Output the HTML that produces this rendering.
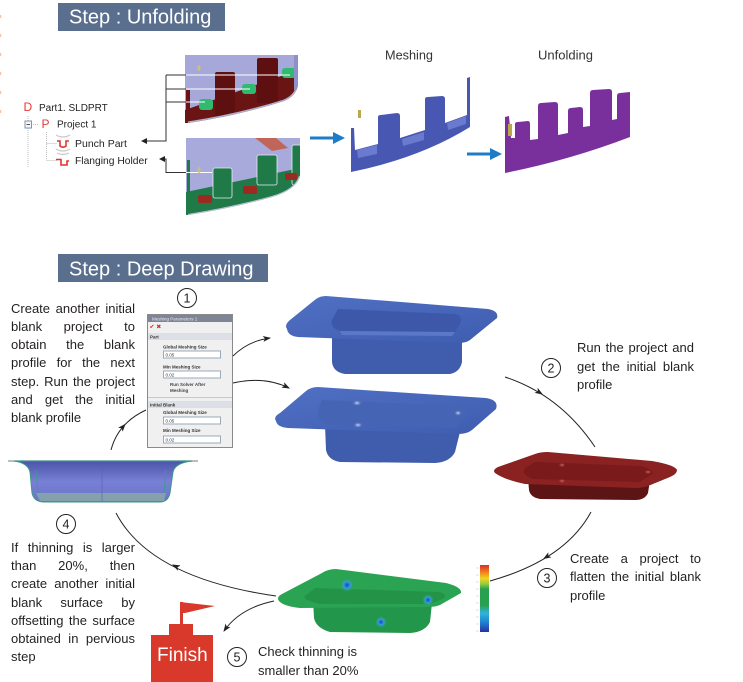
<!DOCTYPE html>
<html><head><meta charset="utf-8">
<style>
html,body{margin:0;padding:0;background:#fff;}
#c{position:relative;width:743px;height:682px;overflow:hidden;background:#fff;font-family:"Liberation Sans",Arial,sans-serif;color:#231f20;}
.p{position:absolute;font-size:13px;line-height:18.3px;}
.p div{white-space:nowrap;}
.j{text-align:justify;text-align-last:justify;white-space:normal!important;}
svg{position:absolute;left:0;top:0;}
</style></head><body><div id="c">
<svg width="743" height="682" viewBox="0 0 743 682" font-family="Liberation Sans, Arial, sans-serif">
<defs>
<marker id="ah" markerWidth="8" markerHeight="6" refX="7" refY="3" orient="auto" markerUnits="userSpaceOnUse">
<path d="M0,0 L8,3 L0,6 L2,3 z" fill="#222"/></marker>
<marker id="ah2" markerWidth="6" markerHeight="6" refX="5" refY="3" orient="auto" markerUnits="userSpaceOnUse">
<path d="M0,0 L6,3 L0,6 z" fill="#222"/></marker>
<linearGradient id="bar" x1="0" y1="0" x2="0" y2="1">
<stop offset="0" stop-color="#d8302a"/><stop offset="0.1" stop-color="#f07a20"/><stop offset="0.2" stop-color="#f0d420"/><stop offset="0.28" stop-color="#98cc40"/><stop offset="0.36" stop-color="#28a050"/><stop offset="0.6" stop-color="#28a050"/><stop offset="0.72" stop-color="#30b4dc"/><stop offset="0.86" stop-color="#2080d0"/><stop offset="1" stop-color="#2830a0"/></linearGradient>
<linearGradient id="sec" x1="0" y1="0" x2="0" y2="1">
<stop offset="0" stop-color="#4a54a8"/><stop offset="0.5" stop-color="#7880d6"/><stop offset="1" stop-color="#6a74c4"/></linearGradient>
<linearGradient id="blu" x1="0" y1="0" x2="1" y2="1">
<stop offset="0" stop-color="#5070c4"/><stop offset="1" stop-color="#3f5db0"/></linearGradient>
<radialGradient id="spot"><stop offset="0" stop-color="#2040c0"/><stop offset="0.5" stop-color="#30a0d8"/><stop offset="1" stop-color="#2aa352" stop-opacity="0"/></radialGradient>
<radialGradient id="wsp"><stop offset="0" stop-color="#d8dcf4"/><stop offset="1" stop-color="#5070c4" stop-opacity="0"/></radialGradient>
<radialGradient id="rsp"><stop offset="0" stop-color="#d07070"/><stop offset="1" stop-color="#8a2222" stop-opacity="0"/></radialGradient>
<clipPath id="c1"><path d="M185,55 H298 V85 Q296,96 284,101 Q240,115 188,123 H185 Z"/></clipPath>
<clipPath id="c2"><path d="M186,138 H300 V176 Q296,190 272,197 Q232,208 188,215 H186 Z"/></clipPath>
</defs>

<!-- faint left dashes -->
<g stroke="#f6c4a4" stroke-width="1.5">
<line x1="0.5" y1="15" x2="0.5" y2="18"/><line x1="0.5" y1="34" x2="0.5" y2="37"/><line x1="0.5" y1="53" x2="0.5" y2="56"/><line x1="0.5" y1="72" x2="0.5" y2="75"/><line x1="0.5" y1="91" x2="0.5" y2="94"/><line x1="0.5" y1="110" x2="0.5" y2="113"/></g>

<!-- titles -->
<rect x="58" y="3" width="167" height="28" fill="#5a6e8e"/>
<text x="69" y="23.5" font-size="20" fill="#fff">Step : Unfolding</text>
<rect x="58" y="254" width="210" height="28" fill="#5a6e8e"/>
<text x="69" y="275.5" font-size="20" fill="#fff">Step : Deep Drawing</text>

<!-- tree -->
<g stroke="#bbb" stroke-dasharray="1,1" stroke-width="1">
<line x1="28" y1="116" x2="28" y2="168"/><line x1="31" y1="124.5" x2="38" y2="124.5"/>
<line x1="46.5" y1="132" x2="46.5" y2="160"/><line x1="46.5" y1="143.5" x2="57" y2="143.5"/><line x1="46.5" y1="160.5" x2="57" y2="160.5"/></g>
<rect x="25" y="121" width="6.5" height="7" fill="#f4f6fa" stroke="#7d95b5" stroke-width="1"/>
<line x1="26.5" y1="124.5" x2="30" y2="124.5" stroke="#555" stroke-width="1"/>
<text x="23.5" y="111" font-size="12" fill="#e33a35">D</text>
<text x="39" y="111" font-size="10" fill="#222">Part1. SLDPRT</text>
<text x="41.5" y="128" font-size="12" fill="#e33a35">P</text>
<text x="57" y="127.5" font-size="10" fill="#222">Project 1</text>
<path d="M56,135 Q63,139 70,135" stroke="#c8c8c8" fill="none" stroke-width="1.2"/>
<path d="M57,141 H60 V146 Q63,148.5 66,146 V141 H69" stroke="#e03530" fill="none" stroke-width="1.6"/>
<path d="M56,149 Q63,153 70,149 M57,153 Q63,156 69,153" stroke="#c8c8c8" fill="none" stroke-width="1.2"/>
<path d="M56,159.5 H61 V165 H67 V161 H69" stroke="#e03530" fill="none" stroke-width="1.6"/>
<text x="75" y="147" font-size="10.5" fill="#222">Punch Part</text>
<text x="75" y="164" font-size="10.3" fill="#222">Flanging Holder</text>

<!-- image 1 -->
<g clip-path="url(#c1)">
<rect x="185" y="55" width="115" height="70" fill="#a6a8da"/>
<polygon points="185,110 298,70 298,125 185,125" fill="#6a1414"/>
<rect x="215" y="72" width="20" height="45" rx="2" fill="#5e1010"/>
<rect x="257" y="58" width="21" height="45" rx="2" fill="#5e1010"/>
<rect x="186" y="90" width="4" height="35" fill="#6a1414"/>
<rect x="199" y="99" width="14" height="11" rx="3" fill="#2fba70"/>
<rect x="242" y="84" width="14" height="10" rx="3" fill="#2fba70"/>
<rect x="282" y="68" width="14" height="10" rx="3" fill="#2fba70"/>
<path d="M298,85 Q296,96 284,101 Q240,115 188,123" stroke="#b0b0d0" stroke-width="3" fill="none"/>
<rect x="294" y="55" width="4" height="35" fill="#8f90c8"/>
</g>
<!-- image 2 -->
<g clip-path="url(#c2)">
<rect x="186" y="138" width="115" height="80" fill="#a8aadc"/>
<polygon points="255,138 276,138 288,148 272,151" fill="#c45a42" opacity="0.85"/>
<polygon points="186,192 300,168 300,218 186,218" fill="#1f7a48"/>
<rect x="213" y="168" width="19" height="30" rx="2" fill="#1f7a48" stroke="#e8eaf8" stroke-width="0.8"/>
<rect x="257" y="155" width="20" height="30" rx="2" fill="#1f7a48" stroke="#e8eaf8" stroke-width="0.8"/>
<rect x="292" y="145" width="9" height="40" rx="2" fill="#1f7a48" stroke="#e8eaf8" stroke-width="0.8"/>
<rect x="187" y="160" width="3" height="50" fill="#1f7a48"/>
<rect x="198" y="195" width="14" height="8" rx="2" fill="#9c2a20"/>
<rect x="243" y="186" width="14" height="8" rx="2" fill="#9c2a20"/>
<rect x="285" y="173" width="12" height="7" rx="2" fill="#9c2a20"/>
<path d="M300,176 Q296,190 272,197 Q232,208 188,215" stroke="#c0c4d8" stroke-width="2" fill="none"/>
</g>
<!-- connectors top -->
<g stroke="#333" stroke-width="1" fill="none">
<path d="M166,75 V141 H142" marker-end="url(#ah2)"/>
<line x1="166" y1="75" x2="186" y2="75"/><line x1="166" y1="89" x2="186" y2="89"/><line x1="166" y1="102" x2="186" y2="102"/>
<path d="M186,172.5 H166 V159 H160" marker-end="url(#ah2)"/>
</g>
<g stroke="#fff" stroke-width="1">
<line x1="186" y1="75" x2="290" y2="75"/><line x1="186" y1="89" x2="250" y2="89"/><line x1="186" y1="102" x2="205" y2="102"/><line x1="186" y1="172.5" x2="212" y2="172.5"/></g>
<ellipse cx="199" cy="68" rx="1.5" ry="3" fill="#c8c080"/>
<ellipse cx="199" cy="170" rx="1.5" ry="3" fill="#c8c080"/>

<!-- blue arrows -->
<g fill="#1e7cc6">
<rect x="310" y="136.5" width="24" height="3"/><polygon points="333,132 345,138 333,144"/>
<rect x="467" y="152.5" width="24" height="3"/><polygon points="490,148 502,154 490,160"/></g>
<text x="385" y="59.5" font-size="12.7" fill="#333">Meshing</text>
<text x="538" y="59.5" font-size="13" fill="#333">Unfolding</text>

<!-- meshing shape -->
<path d="M351,172 L351,128 L354,128 L355,150 L378,144 L378,117 Q378,115 381,115 L397,113 Q400,113 400,116 L400,138 L425,130 L425,99 Q425,97 428,97 L442,96 Q445,96 445,99 L445,123 L467,115 L467,78 L470,77 L470,127 Q420,158 351,172 Z" fill="#4858b2"/>
<polygon points="357,150 377,145 377,154 358,158" fill="#6a7ace"/>
<polygon points="402,139 424,132 424,140 403,146" fill="#6a7ace"/>
<polygon points="447,123 466,116 466,124 448,130" fill="#6a7ace"/>
<rect x="358" y="110" width="3" height="8" fill="#b8a850"/>
<!-- unfolding shape -->
<path d="M505,173 L505,117 L509,116 L511,138 L515,138 L515,124 Q515,122 518,122 L528,121 Q530,121 530,124 L530,140 L538,139 L538,106 Q538,103 541,103 L555,102 Q558,102 558,105 L558,135 L568,133 L568,111 Q568,108 571,108 L580,107 Q583,107 583,110 L583,127 L590,126 L590,93 Q590,90 593,90 L609,89 Q612,89 612,92 L612,120 L617,119 L617,96 Q617,93 620,93 L630,92 L630,137 Q570,160 505,173 Z" fill="#7a309c"/>
<rect x="508" y="124" width="4" height="12" fill="#b8a850"/>

<!-- dialog -->
<rect x="147.5" y="314.5" width="85" height="133" fill="#f0f0f0" stroke="#8a8a8a"/>
<rect x="148" y="315" width="84" height="7" fill="#7d8597"/>
<text x="152" y="320.5" font-size="4.5" fill="#e8e8f0">Meshing Parameters 1</text>
<text x="149.5" y="328.5" font-size="6" fill="#d03030">✔ ✖</text>
<rect x="148" y="333" width="84" height="7" fill="#dce0e6"/>
<text x="150" y="338.5" font-size="4.5" font-weight="bold" fill="#333">Part</text>
<text x="163" y="348.5" font-size="4.5" font-weight="bold" fill="#333">Global Meshing Size</text>
<rect x="163.5" y="351" width="57" height="7" fill="#fff" stroke="#9ab"/>
<text x="165.5" y="356.5" font-size="4.5" fill="#333">0.05</text>
<text x="163" y="368.5" font-size="4.5" font-weight="bold" fill="#333">Min Meshing Size</text>
<rect x="163.5" y="371" width="57" height="7" fill="#fff" stroke="#9ab"/>
<text x="165.5" y="376.5" font-size="4.5" fill="#333">0.02</text>
<text x="170" y="386" font-size="4.5" font-weight="bold" fill="#444">Run Solver After</text>
<text x="170" y="392" font-size="4.5" font-weight="bold" fill="#444">Meshing</text>
<line x1="148" y1="397.5" x2="232" y2="397.5" stroke="#c8c8c8"/>
<rect x="148" y="401" width="84" height="7" fill="#dce0e6"/>
<text x="150" y="406.5" font-size="4.5" font-weight="bold" fill="#333">Initial Blank</text>
<text x="163" y="414" font-size="4.5" font-weight="bold" fill="#333">Global Meshing Size</text>
<rect x="163.5" y="417" width="57" height="7" fill="#fff" stroke="#9ab"/>
<text x="165.5" y="422.5" font-size="4.5" fill="#333">0.05</text>
<text x="163" y="432" font-size="4.5" font-weight="bold" fill="#333">Min Meshing Size</text>
<rect x="163.5" y="436" width="57" height="7" fill="#fff" stroke="#9ab"/>
<text x="165.5" y="441.5" font-size="4.5" fill="#333">0.02</text>

<!-- top blue tray -->
<path d="M332,335 L462,335 L462,362 Q460,372 450,374 L345,374 Q333,372 332,362 Z" fill="#3f5cad"/>
<path d="M287,329 Q284,325 290,320 L316,299 Q320,296 326,296 L488,309 Q499,311 497,318 L470,340 Q466,343 458,343 L298,337 Q288,336 287,329 Z" fill="url(#blu)"/>
<path d="M338,309 L455,314 Q464,316 460,324 L455,332 L340,331 Q330,328 332,320 Z" fill="#3d58a8"/>
<path d="M340,331 L455,332 L452,336 L342,335 Z" fill="#5a78c8"/>
<!-- second blue tray -->
<path d="M325,425 L460,432 L455,452 Q450,462 435,463 L340,462 Q328,460 326,450 Z" fill="#3f5cad"/>
<path d="M276,421 Q273,417 280,413 L306,391 Q311,387 318,387 L486,398 Q499,400 496,409 L472,430 Q467,434 458,434 L288,428 Q277,427 276,421 Z" fill="url(#blu)"/>
<path d="M322,400 L458,406 Q470,410 466,417 L455,428 L330,425 Q316,420 318,410 Z" fill="#4564b4"/>
<ellipse cx="357" cy="403" rx="5" ry="3" fill="url(#wsp)"/>
<ellipse cx="458" cy="413" rx="4" ry="3" fill="url(#wsp)"/>
<ellipse cx="358" cy="425" rx="5" ry="3" fill="url(#wsp)"/>
<!-- red tray -->
<path d="M528,478 L650,480 L648,493 Q645,500 635,500 L540,499 Q530,497 529,490 Z" fill="#5c1414"/>
<path d="M495,473 Q492,470 498,467 L535,454 Q540,452 548,452 L652,461 Q675,465 677,470 Q677,474 670,477 L648,486 Q642,488 635,488 L525,484 Q505,480 495,473 Z" fill="#8a2222"/>
<path d="M535,462 L640,466 Q656,470 652,474 L640,482 L533,479 Q520,474 525,468 Z" fill="#7a1a1a"/>
<ellipse cx="562" cy="465" rx="4" ry="2.5" fill="url(#rsp)"/>
<ellipse cx="648" cy="472" rx="4" ry="2.5" fill="url(#rsp)"/>
<ellipse cx="562" cy="481" rx="4" ry="2.5" fill="url(#rsp)"/>
<!-- green tray -->
<path d="M313,600 L432,603 L430,622 Q425,632 410,633 L330,632 Q316,628 314,618 Z" fill="#22964a"/>
<path d="M279,601 Q276,597 282,594 L322,573 Q328,569 336,569 L446,583 Q462,587 461,593 L440,605 Q435,607 428,607 L300,608 Q283,606 279,601 Z" fill="#2aa352"/>
<path d="M315,588 L440,592 Q448,595 444,598 L430,604 L320,604 Q302,600 305,596 Z" fill="#239447"/>
<circle cx="347" cy="585" r="7" fill="url(#spot)"/>
<circle cx="428" cy="600" r="6" fill="url(#spot)"/>
<circle cx="381" cy="622" r="6" fill="url(#spot)"/>
<!-- color bar -->
<rect x="480" y="565" width="9" height="67" fill="url(#bar)"/>
<g stroke="#ccc" stroke-width="0.6"><line x1="476" y1="568" x2="479" y2="568"/><line x1="476" y1="575" x2="479" y2="575"/><line x1="476" y1="582" x2="479" y2="582"/><line x1="476" y1="589" x2="479" y2="589"/><line x1="476" y1="596" x2="479" y2="596"/><line x1="476" y1="603" x2="479" y2="603"/><line x1="476" y1="610" x2="479" y2="610"/><line x1="476" y1="617" x2="479" y2="617"/><line x1="476" y1="624" x2="479" y2="624"/><line x1="476" y1="631" x2="479" y2="631"/></g>

<!-- left section image -->
<line x1="8" y1="461" x2="198" y2="461" stroke="#a0aab0" stroke-width="1.5"/>
<path d="M14,461 Q28,463 30,472 L32,493 Q34,502 44,502 L160,502 Q168,502 170,493 L173,472 Q175,463 192,461 Z" fill="url(#sec)" stroke="#3a9a8a" stroke-width="1"/>
<path d="M36,493 L166,493 L164,501 L40,501 Z" fill="#8aa8a8" opacity="0.85"/>
<g stroke="#3f9a8c" stroke-width="1" fill="none"><path d="M36,470 L38,493"/><path d="M166,470 L164,493"/></g>
<line x1="102" y1="462" x2="102" y2="501" stroke="#5860b0" stroke-width="0.6"/>

<!-- arcs -->
<g stroke="#222" stroke-width="1" fill="none">
<path d="M111,450 Q118,423 146,410"/>
<path d="M121.5,428.5 L125,424.5" marker-end="url(#ah)"/>
<path d="M233,356 Q248,341 270,338" marker-end="url(#ah)"/>
<path d="M233,383 Q265,376 289,388" marker-end="url(#ah)"/>
<path d="M505,377 Q560,395 595,447"/>
<path d="M538,391.5 L542,394" marker-end="url(#ah)"/>
<path d="M591,512 Q565,560 490,581"/>
<path d="M548,556 L544,558.5" marker-end="url(#ah)"/>
<path d="M116,513 Q150,578 276,596"/>
<path d="M177,567 L173,565" marker-end="url(#ah)"/>
<path d="M274,601 Q240,608 224,631" marker-end="url(#ah)"/>
</g>

<!-- circles -->
<g fill="#fff" stroke="#222" stroke-width="1">
<circle cx="187" cy="298" r="9.5"/><circle cx="551" cy="368" r="9.5"/><circle cx="547" cy="578" r="9.5"/><circle cx="66" cy="524" r="9.5"/><circle cx="237" cy="657" r="9.5"/></g>
<g font-size="12.5" fill="#222" text-anchor="middle">
<text x="187" y="302.5">1</text><text x="551" y="372.5">2</text><text x="547" y="582.5">3</text><text x="66" y="528.5">4</text><text x="237" y="661.5">5</text></g>

<!-- finish -->
<rect x="180" y="602" width="3" height="23" fill="#d8392b"/>
<polygon points="180,602 215,606 185,613 180,613" fill="#d8392b"/>
<rect x="169" y="624" width="24" height="12" fill="#d8392b"/>
<rect x="151" y="635" width="62" height="47" fill="#d8392b"/>
<text x="157" y="661" font-size="19" fill="#fff">Finish</text>
</svg>

<div class="p" style="left:11px;top:299.5px;width:124px;">
<div class="j">Create another initial</div>
<div class="j">blank project to</div>
<div class="j">obtain the blank</div>
<div class="j">profile for the next</div>
<div class="j">step. Run the project</div>
<div class="j">and get the initial</div>
<div>blank profile</div>
</div>

<div class="p" style="left:11px;top:539px;width:124px;line-height:18.2px;">
<div class="j">If thinning is larger</div>
<div class="j">than 20%, then</div>
<div class="j">create another initial</div>
<div class="j">blank surface by</div>
<div class="j">offsetting the surface</div>
<div class="j">obtained in pervious</div>
<div>step</div>
</div>

<div class="p" style="left:577px;top:339px;width:117px;line-height:18.5px;">
<div class="j">Run the project and</div>
<div class="j">get the initial blank</div>
<div>profile</div>
</div>

<div class="p" style="left:570px;top:549.5px;width:131px;line-height:18.6px;">
<div class="j">Create a project to</div>
<div class="j">flatten the initial blank</div>
<div>profile</div>
</div>

<div class="p" style="left:258px;top:642px;width:130px;line-height:19px;">
<div>Check thinning is</div>
<div>smaller than 20%</div>
</div>
</div></body></html>
